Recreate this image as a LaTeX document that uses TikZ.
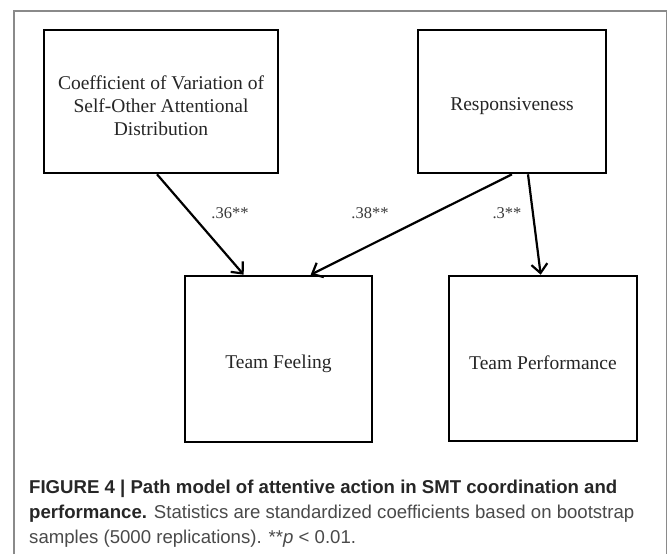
\documentclass[tikz,border=0pt]{standalone}
\usepackage{fontspec}
\setmainfont{Liberation Serif}
\newfontfamily\capfont{Liberation Sans}
\usetikzlibrary{arrows.meta,calc}
\definecolor{framegray}{HTML}{8A8A8A}
\definecolor{capdark}{HTML}{262626}
\definecolor{capgray}{HTML}{4A4A4A}
\definecolor{lblgray}{HTML}{3A3A3A}
\tikzset{
  varbox/.style={draw=black, line width=2.6pt, minimum width=#1, inner sep=0pt},
  boxtext/.style={align=center, font=\fontsize{19.5}{23}\selectfont, text=black!85, inner sep=0pt, yshift=-4.5pt},
  patharrow/.style={line width=2.2pt, -{Straight Barb[length=9pt,width=16pt,line width=2.2pt]}},
  coef/.style={font=\fontsize{16.5}{18}\selectfont, text=lblgray, inner sep=0pt},
  capline/.style={anchor=base west, inner sep=0pt, font=\capfont\fontsize{18.6}{20}\selectfont, text=capgray}
}
\begin{document}
\begin{tikzpicture}[x=1pt,y=-1pt]
\useasboundingbox (0,0) rectangle (669,554);
\fill[white] (0,0) rectangle (669,554);
% frame
\draw[framegray, line width=1.2pt] (14,554) -- (14,11) -- (666.5,11) -- (666.5,554);

% boxes
\node[varbox=234pt, minimum height=143pt,
  label={[boxtext, name=cvtext]center:Coefficient of Variation of\\Self-Other Attentional\\Distribution}] (cv) at (161,101.5) {};
\node[varbox=188pt, minimum height=143pt,
  label={[boxtext, name=resptext]center:Responsiveness}] (resp) at (512,101.5) {};
\node[varbox=187pt, minimum height=166pt,
  label={[boxtext, name=tftext]center:Team Feeling}] (tf) at (278.5,359) {};
\node[varbox=188pt, minimum height=165pt,
  label={[boxtext, name=tptext]center:Team Performance}] (tp) at (543,358.5) {};

% arrows
\draw[patharrow] ($(cv.south)+(-4,0)$) -- ($(tf.north west)+(60,0)$);
\draw[patharrow] ($(resp.south)+(0,0)$) -- ($(tf.north west)+(127,0)$);
\draw[patharrow] ($(resp.south)+(16,0)$) -- ($(tp.north west)+(93,0)$);

% coefficients
\node[coef] (l1) at (230,213) {.36**};
\node[coef] (l2) at (370,213) {.38**};
\node[coef] (l3) at (507,213) {.3**};

% caption
\node[capline, text=capdark] (c1) at (29,493) {\bfseries FIGURE 4 | Path model of attentive action in SMT coordination and};
\node[capline] (c2) at (29,518) {{\bfseries\color{capdark}performance.} Statistics are standardized coefficients based on bootstrap};
\node[capline] (c3) at (29,543) {samples (5000 replications). **\textit{p} < 0.01.};
\end{tikzpicture}
\end{document}
